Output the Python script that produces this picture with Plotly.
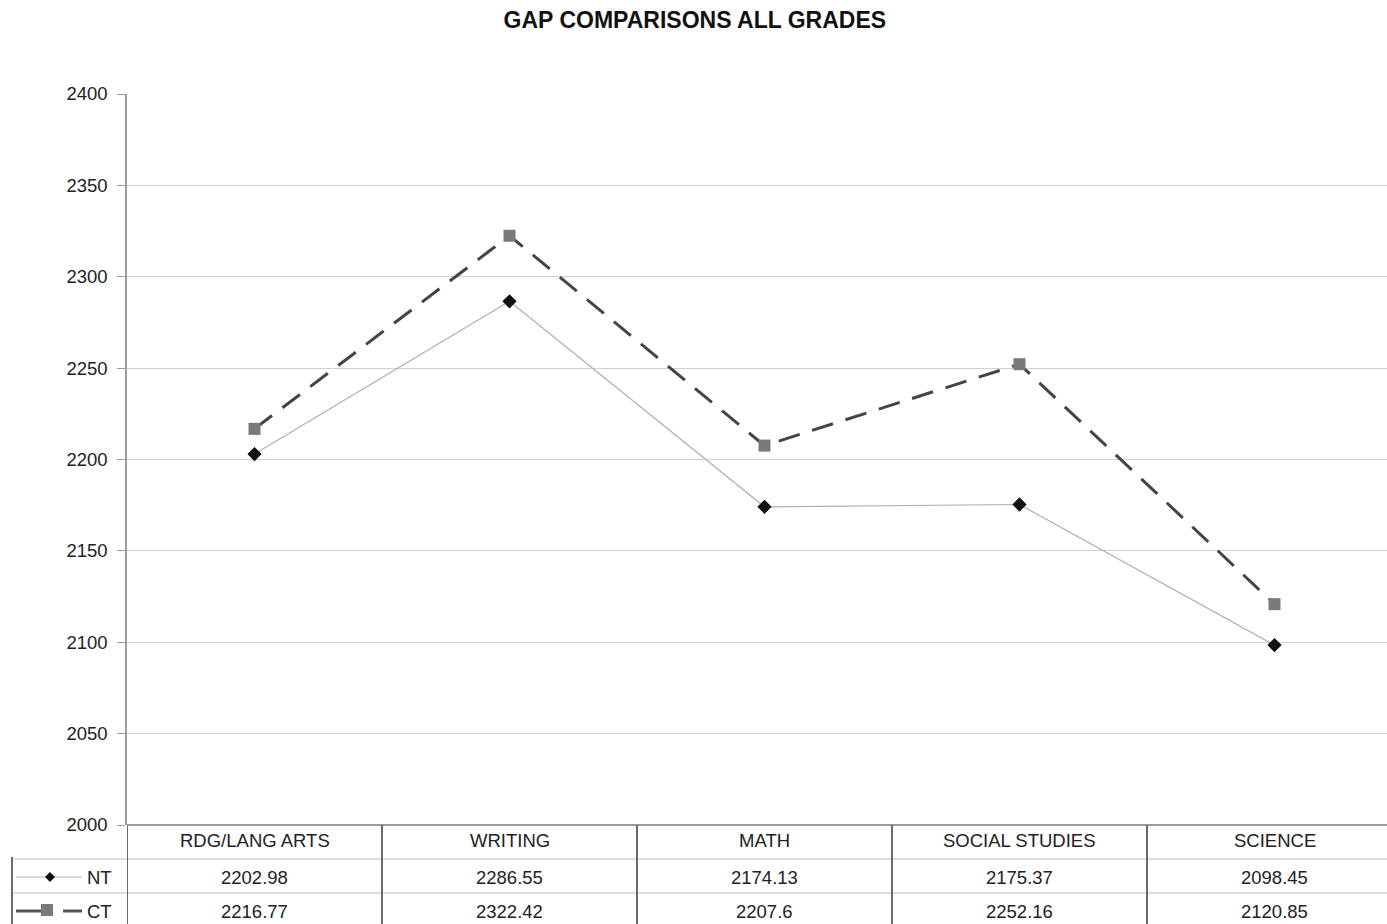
import plotly.graph_objects as go

# Subject areas and mean scale scores per group
subjects = ["RDG/LANG ARTS", "WRITING", "MATH", "SOCIAL STUDIES", "SCIENCE"]
nt_scores = [2202.98, 2286.55, 2174.13, 2175.37, 2098.45]
ct_scores = [2216.77, 2322.42, 2207.6, 2252.16, 2120.85]
nt_labels = ["2202.98", "2286.55", "2174.13", "2175.37", "2098.45"]
ct_labels = ["2216.77", "2322.42", "2207.6", "2252.16", "2120.85"]
y_ticks = [2000, 2050, 2100, 2150, 2200, 2250, 2300, 2350, 2400]

W, H = 1387, 924
ML, MT, MB = 127, 94, 99
PLOT_W = W - ML
PLOT_H = H - MT - MB
FONT = "Liberation Sans, Arial, sans-serif"
TXT = 18.5

x_idx = list(range(len(subjects)))


def py(pix):
    """Convert a page pixel row to paper y."""
    return (H - MB - pix) / PLOT_H


def px(pix):
    """Convert a page pixel column to paper x."""
    return (pix - ML) / PLOT_W


fig = go.Figure()

fig.add_trace(go.Scatter(
    x=x_idx, y=nt_scores, name="NT", mode="lines+markers",
    line=dict(color="#b0b0b0", width=1.2),
    marker=dict(symbol="diamond", size=11, color="#111111"),
    showlegend=False,
))
fig.add_trace(go.Scatter(
    x=x_idx, y=ct_scores, name="CT", mode="lines+markers",
    line=dict(color="#444444", width=3, dash="22px,13px"),
    marker=dict(symbol="square", size=12, color="#7a7a7a"),
    showlegend=False,
))

shapes = []
annotations = []

# Data table below the plot: header row, NT row, CT row
row_header_y = py(840)
row_nt_y = py(877)
row_ct_y = py(911)
line1 = py(859)
line2 = py(893)
bottom = py(H + 5)

# table top border (at y = 2000)
shapes.append(dict(type="line", xref="paper", yref="paper", x0=0, x1=1, y0=0, y1=0,
                   line=dict(color="#9a9a9a", width=2), layer="above"))
# light row separators
for ly in (line1, line2):
    shapes.append(dict(type="line", xref="paper", yref="paper", x0=px(12), x1=1, y0=ly, y1=ly,
                       line=dict(color="#dddddd", width=2)))
# column dividers between categories
for i in range(len(subjects)):
    shapes.append(dict(type="line", xref="x", yref="paper", x0=i - 0.5, x1=i - 0.5, y0=0, y1=bottom,
                       line=dict(color="#6a6a6a", width=2)))
# legend column left border
shapes.append(dict(type="line", xref="paper", yref="paper", x0=px(12), x1=px(12), y0=py(857), y1=bottom,
                   line=dict(color="#6a6a6a", width=2)))

# legend swatches in the table
shapes.append(dict(type="line", xref="paper", yref="paper", x0=px(16), x1=px(82), y0=row_nt_y, y1=row_nt_y,
                   line=dict(color="#cccccc", width=1.5)))
cx, cy = 50, 877
shapes.append(dict(type="path", xref="paper", yref="paper",
                   path=f"M {px(cx-5)} {py(cy)} L {px(cx)} {py(cy-5)} L {px(cx+5)} {py(cy)} L {px(cx)} {py(cy+5)} Z",
                   fillcolor="#111111", line=dict(color="#111111", width=0)))
shapes.append(dict(type="line", xref="paper", yref="paper", x0=px(16), x1=px(42), y0=row_ct_y, y1=row_ct_y,
                   line=dict(color="#555555", width=3)))
shapes.append(dict(type="line", xref="paper", yref="paper", x0=px(63), x1=px(82), y0=row_ct_y, y1=row_ct_y,
                   line=dict(color="#555555", width=3)))
sx, sy = 47, 910
shapes.append(dict(type="rect", xref="paper", yref="paper",
                   x0=px(sx-6), x1=px(sx+6), y0=py(sy+6), y1=py(sy-6),
                   fillcolor="#7a7a7a", line=dict(color="#7a7a7a", width=0)))

annotations.append(dict(text="NT", xref="paper", yref="paper", x=px(114), y=row_nt_y,
                        xanchor="right", yanchor="middle", showarrow=False,
                        font=dict(family=FONT, size=TXT, color="#222222")))
annotations.append(dict(text="CT", xref="paper", yref="paper", x=px(114), y=row_ct_y,
                        xanchor="right", yanchor="middle", showarrow=False,
                        font=dict(family=FONT, size=TXT, color="#222222")))

for i, name in enumerate(subjects):
    annotations.append(dict(text=name, xref="x", yref="paper", x=i, y=row_header_y,
                            xanchor="center", yanchor="middle", showarrow=False,
                            font=dict(family=FONT, size=TXT, color="#222222")))
    annotations.append(dict(text=nt_labels[i], xref="x", yref="paper", x=i, y=row_nt_y,
                            xanchor="center", yanchor="middle", showarrow=False,
                            font=dict(family=FONT, size=TXT, color="#222222")))
    annotations.append(dict(text=ct_labels[i], xref="x", yref="paper", x=i, y=row_ct_y,
                            xanchor="center", yanchor="middle", showarrow=False,
                            font=dict(family=FONT, size=TXT, color="#222222")))

x_span = PLOT_W / 255.0

fig.update_layout(
    width=W, height=H,
    margin=dict(l=ML, r=0, t=MT, b=MB, pad=0),
    paper_bgcolor="white", plot_bgcolor="white",
    title=dict(text="<b>GAP COMPARISONS ALL GRADES</b>", x=0.501, xanchor="center",
               y=1 - 20 / H, yanchor="middle", yref="container",
               font=dict(family=FONT, size=23, color="#111111")),
    xaxis=dict(range=[-0.5, -0.5 + x_span], showticklabels=False, showgrid=False,
               zeroline=False, showline=False, ticks="", fixedrange=True),
    yaxis=dict(range=[2000, 2400], tickvals=y_ticks, showgrid=True, gridcolor="#d0d0d0",
               gridwidth=1.2, zeroline=False, showline=True, linecolor="#9a9a9a", linewidth=1.5,
               ticks="outside", ticklen=8, tickcolor="#9a9a9a", tickwidth=1,
               ticklabelstandoff=6,
               tickfont=dict(family=FONT, size=TXT, color="#222222")),
    shapes=shapes,
    annotations=annotations,
    showlegend=False,
)

fig.write_html("out.html")
